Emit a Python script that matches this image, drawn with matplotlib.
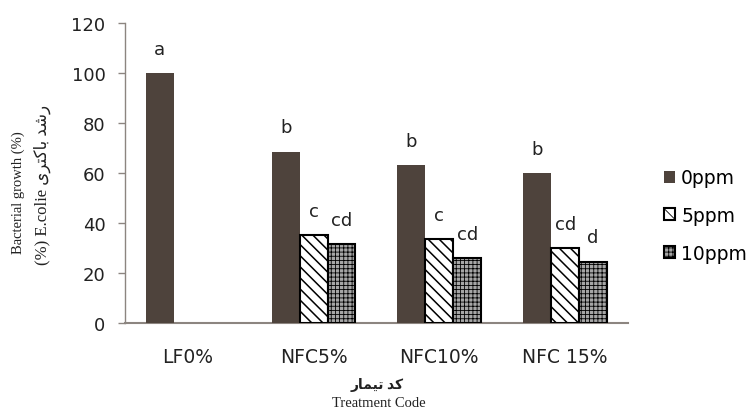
import numpy as np
import matplotlib.pyplot as plt

categories = ['LF0%', 'NFC5%', 'NFC10%', 'NFC 15%']
series_names = ['0ppm', '5ppm', '10ppm']
ppm0 = [100, 68.5, 63, 60]
ppm5 = [np.nan, 35, 33.5, 30]
ppm10 = [np.nan, 31.5, 26, 24.5]
letters0 = ['a', 'b', 'b', 'b']
letters5 = ['', 'c', 'c', 'cd']
letters10 = ['', 'cd', 'cd', 'd']

# Persian words written in visual order with presentation forms
ylabel_fa = '(%) E.colie ' + '\uFBFC\uFEAE\uFE98\uFB90\uFE8E\uFE91 \uFEAA\uFEB7\uFEAD'
xlabel_fa = '\uFEAD\uFE8E\uFEE4\uFBFF\uFE97 \uFEAA\uFB90'

plt.rcParams['font.family'] = ['DejaVu Sans']

fig = plt.figure(figsize=(7.48, 4.10), dpi=100)
ax = fig.add_axes([0.167, 0.2098, 0.6726, 0.7317])

x = np.arange(len(categories))
w = 0.222
dark = '#4e433c'

b0 = ax.bar(x - w, ppm0, w, color=dark, label=series_names[0], zorder=3)
plt.rcParams['hatch.linewidth'] = 1.1
b5 = ax.bar(x, ppm5, w, color='white', edgecolor='black', hatch='\\\\\\',
            linewidth=1.5, label=series_names[1], zorder=3)
# fine checker pattern for the 10ppm bars
plt.rcParams['hatch.linewidth'] = 0.6
b10 = ax.bar(x + w, ppm10, w, color='#a6a6a6', edgecolor='black', hatch='++++',
             linewidth=1.5, label=series_names[2], zorder=3)

# significance letters above each bar
for off, vals, labs in [(-w, ppm0, letters0), (0, ppm5, letters5), (w, ppm10, letters10)]:
    for xi, v, t in zip(x, vals, labs):
        if np.isnan(v) or not t:
            continue
        ax.annotate(t, (xi + off, v), xytext=(0, 14), textcoords='offset points',
                    ha='center', va='baseline', fontsize=13, color='#222222')

ax.set_xlim(-0.5, 3.5)
ax.set_ylim(0, 120)
ax.set_yticks(np.arange(0, 121, 20))
ax.set_xticks(x)
ax.set_xticklabels(categories)
ax.tick_params(axis='x', length=0, pad=17, labelsize=13.5, labelcolor='#222222')
ax.tick_params(axis='y', length=5, width=1, color='#8c8580', pad=9,
               labelsize=13, labelcolor='#222222')

for s in ['top', 'right']:
    ax.spines[s].set_visible(False)
ax.spines['left'].set_color('#8c8580')
ax.spines['left'].set_linewidth(1.0)
ax.spines['bottom'].set_color('#8c8580')
ax.spines['bottom'].set_linewidth(1.5)
ax.spines['bottom'].set_zorder(2)

fig.legend(handles=[b0, b5, b10], labels=series_names, loc='center left',
           bbox_to_anchor=(0.888, 0.472), frameon=False, fontsize=13.5,
           handlelength=0.6, handleheight=0.6, handletextpad=0.3,
           labelspacing=1.0, borderpad=0, borderaxespad=0)

# axis titles, english in serif, persian falling back to DejaVu Sans
fam = ['Liberation Serif', 'DejaVu Sans']
fig.text(0.024, 0.53, 'Bacterial growth (%)', rotation=90, ha='center', va='center',
         fontsize=10.5, family=fam, color='#222222')
fig.text(0.056, 0.55, ylabel_fa, rotation=90, ha='center', va='center',
         fontsize=12, family=fam, color='#222222')
fig.text(0.504, 0.061, xlabel_fa, ha='center', va='center',
         fontsize=10, family=fam, fontweight='bold', color='#222222')
fig.text(0.506, 0.017, 'Treatment Code', ha='center', va='center',
         fontsize=10.5, family=fam, color='#222222')

fig.savefig('out.png', dpi=100)
